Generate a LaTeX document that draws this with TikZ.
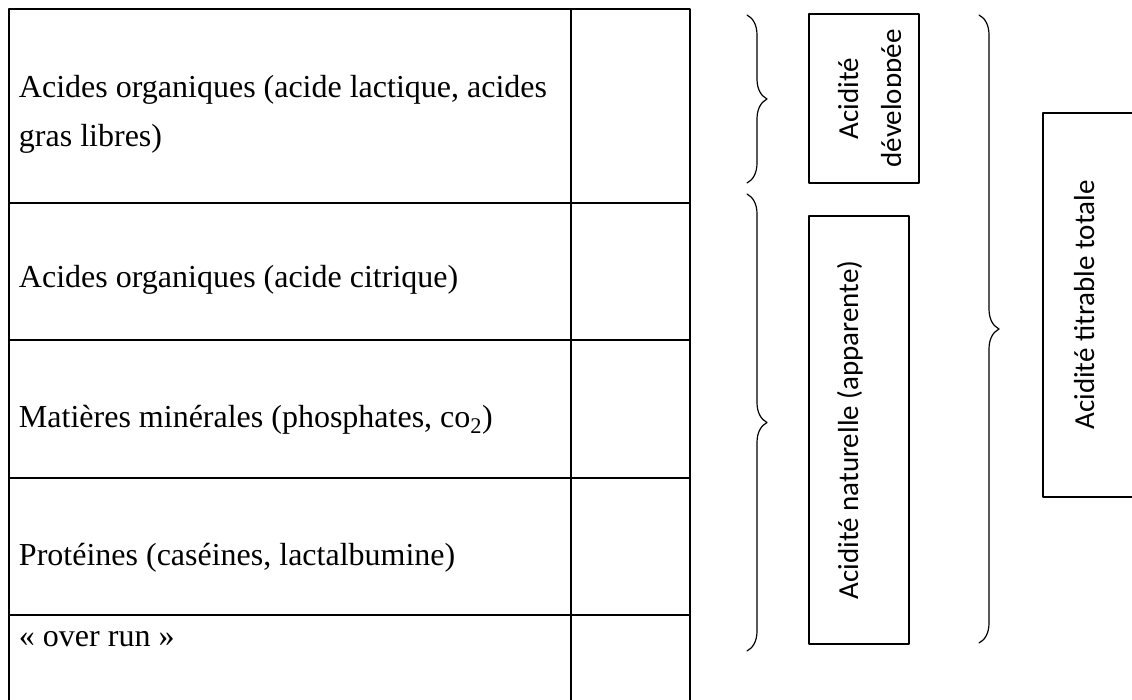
\documentclass[tikz,border=0pt]{standalone}
\usepackage{fontspec}
\setmainfont{Liberation Serif}
\newfontfamily\boxfont{Carlito}
\usetikzlibrary{decorations.pathreplacing}
\begin{document}
\begin{tikzpicture}[x=1pt, y=-1pt, line join=round, line cap=round]
  \tikzset{every node/.style={inner sep=0pt, outer sep=0pt},
    ligne/.style={anchor=base west, font=\fontsize{32}{49}\selectfont},
    acid/.style={anchor=base, rotate=90, font=\boxfont\fontsize{29}{43}\selectfont},
    cadre/.style={draw, line width=1.3pt},
    trait/.style={line width=1.8pt, line cap=butt},
    accol/.style={decorate, decoration={brace, amplitude=20pt}, line width=1.2pt}}
  \def\xg{9}\def\xm{571}\def\xd{690}
  \useasboundingbox (0,0) rectangle (1132,700);
  \clip (0,0) rectangle (1132,700);
  % tableau
  \draw[trait] (\xg,710) -- (\xg,9) -- (\xd,9) -- (\xd,710);
  \draw[trait] (\xm,9) -- (\xm,710);
  \foreach \y in {203,340,478,615} \draw[trait] (\xg,\y) -- (\xd,\y);
  \node[ligne] (lact) at (19,98) {Acides organiques (acide lactique, acides};
  \node[ligne] (gras) at (19,147) {gras libres)};
  \node[ligne] (citr) at (19,288) {Acides organiques (acide citrique)};
  \node[ligne] (mine) at (19,427) {Matières minérales (phosphates, co\textsubscript{2})};
  \node[ligne] (prot) at (19,565) {Protéines (caséines, lactalbumine)};
  \node[ligne] (over) at (19,646) {« over run »};
  % accolades
  \draw[accol] (747,15) -- (747,183);
  \draw[accol] (747,194) -- (747,651);
  \draw[accol] (979,15) -- (979,643);
  % cadres
  \node[cadre, minimum width=110pt, minimum height=169pt] (dev) at (864,98.5) {};
  \node[acid] (dev1) at (858,98.5) {Acidité};
  \begin{scope}
    \clip (809,14) rectangle (900,183);
    \node[acid] (dev2) at (901,98.5) {développée};
  \end{scope}
  \node[cadre, minimum width=100pt, minimum height=428pt] (nat) at (859,430) {};
  \node[acid] (nat1) at (858,430) {Acidité naturelle (apparente)};
  \draw[cadre] (1150,113) -- (1043,113) -- (1043,497) -- (1150,497);
  \node[acid] (tot) at (1094,305) {Acidité titrable totale};
\end{tikzpicture}
\end{document}
